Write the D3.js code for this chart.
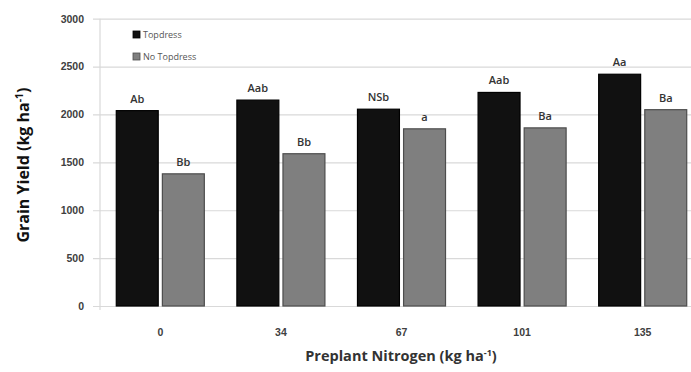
<!DOCTYPE html>
<html>
<head>
<meta charset="utf-8">
<script src="https://cdn.jsdelivr.net/npm/d3@7"></script>
<style>
  html, body { margin: 0; padding: 0; background: #fff; }
  svg { display: block; font-family: "Open Sans", "DejaVu Sans", sans-serif; }
</style>
</head>
<body>
<svg id="chart" width="691" height="372"></svg>
<script>
// Preplant N rates (kg ha-1)
const categories = ["0", "34", "67", "101", "135"];
const seriesNames = ["Topdress", "No Topdress"];
// Grain yield (kg ha-1)
const topdress = [2040, 2150, 2055, 2230, 2420];
const noTopdress = [1380, 1590, 1850, 1860, 2050];
// Mean separation letters
const topdressLetters = ["Ab", "Aab", "NSb", "Aab", "Aa"];
const noTopdressLetters = ["Bb", "Bb", "a", "Ba", "Ba"];
const yTicks = [0, 500, 1000, 1500, 2000, 2500, 3000];

const colors = { "Topdress": "#111111", "No Topdress": "#7f7f7f" };
const strokes = { "Topdress": "#000000", "No Topdress": "#4d4d4d" };

const svg = d3.select("#chart");
const plot = { left: 100, right: 703, top: 18.7, bottom: 306 };

const y = d3.scaleLinear().domain([0, 3000]).range([plot.bottom, plot.top]);
const x0 = d3.scaleBand().domain(categories).range([plot.left, plot.right]).paddingInner(0.27).paddingOuter(0.135);
const x1 = d3.scaleBand().domain(seriesNames).range([0, x0.bandwidth()]).paddingInner(0.09);

// gridlines + y ticks
const yAxis = d3.axisLeft(y).tickValues(yTicks).tickFormat(d3.format("d"))
  .tickSize(-(plot.right - plot.left + 7)).tickPadding(9);
const gy = svg.append("g").attr("transform", `translate(${plot.left - 7},0)`).call(yAxis);
gy.select(".domain").remove();
gy.selectAll(".tick line").attr("stroke", "#d9d9d9").attr("stroke-width", 1.2);
gy.selectAll(".tick text").attr("fill", "#404040").attr("font-size", 10.5).attr("font-weight", 600);

// vertical axis line
svg.append("line")
  .attr("x1", plot.left).attr("x2", plot.left)
  .attr("y1", y(3000)).attr("y2", plot.bottom + 4)
  .attr("stroke", "#d9d9d9").attr("stroke-width", 1.2);

const data = categories.map((c, i) => ({
  cat: c,
  values: [
    { key: "Topdress", value: topdress[i], label: topdressLetters[i] },
    { key: "No Topdress", value: noTopdress[i], label: noTopdressLetters[i] }
  ]
}));

const groups = svg.append("g").selectAll("g").data(data).join("g")
  .attr("transform", d => `translate(${x0(d.cat)},0)`);

groups.selectAll("rect").data(d => d.values).join("rect")
  .attr("x", d => x1(d.key))
  .attr("width", x1.bandwidth())
  .attr("y", d => y(d.value))
  .attr("height", d => y(0) - y(d.value))
  .attr("fill", d => colors[d.key])
  .attr("stroke", d => strokes[d.key])
  .attr("stroke-width", 1.2);

groups.selectAll("text").data(d => d.values).join("text")
  .attr("x", d => x1(d.key) + x1.bandwidth() / 2)
  .attr("y", d => y(d.value) - 8)
  .attr("text-anchor", "middle")
  .attr("font-size", 11)
  .attr("font-weight", 600)
  .attr("fill", "#333")
  .text(d => d.label);

// x tick labels
const xAxis = d3.axisBottom(x0).tickSize(0).tickPadding(0);
const gx = svg.append("g").attr("transform", `translate(0,${plot.bottom})`).call(xAxis);
gx.select(".domain").remove();
gx.selectAll(".tick text").attr("y", 30).attr("fill", "#404040").attr("font-size", 10.5).attr("font-weight", 600).attr("dy", 0);

// x axis title
const xt = svg.append("text")
  .attr("x", 401).attr("y", 361)
  .attr("text-anchor", "middle")
  .attr("font-size", 14.5).attr("font-weight", 700).attr("fill", "#333");
xt.append("tspan").text("Preplant Nitrogen (kg ha");
xt.append("tspan").attr("dy", -5).attr("font-size", 9).text("-1");
xt.append("tspan").attr("dy", 5).text(")");

// y axis title
const yt = svg.append("text")
  .attr("transform", "translate(29,165) rotate(-90)")
  .attr("text-anchor", "middle")
  .attr("font-size", 16).attr("font-weight", 700).attr("fill", "#111");
yt.append("tspan").text("Grain Yield (kg ha");
yt.append("tspan").attr("dy", -6).attr("font-size", 10.5).text("-1");
yt.append("tspan").attr("dy", 6).text(")");

// legend
const legend = svg.append("g").attr("transform", "translate(133,30)");
seriesNames.forEach((s, i) => {
  const g = legend.append("g").attr("transform", `translate(0,${i * 22})`);
  g.append("rect").attr("width", 7).attr("height", 7).attr("y", 1)
    .attr("fill", colors[s]).attr("stroke", strokes[s]).attr("stroke-width", 0.8);
  g.append("text").attr("x", 10).attr("y", 8)
    .attr("font-size", 9).attr("fill", "#555").text(s);
});
</script>
</body>
</html>
